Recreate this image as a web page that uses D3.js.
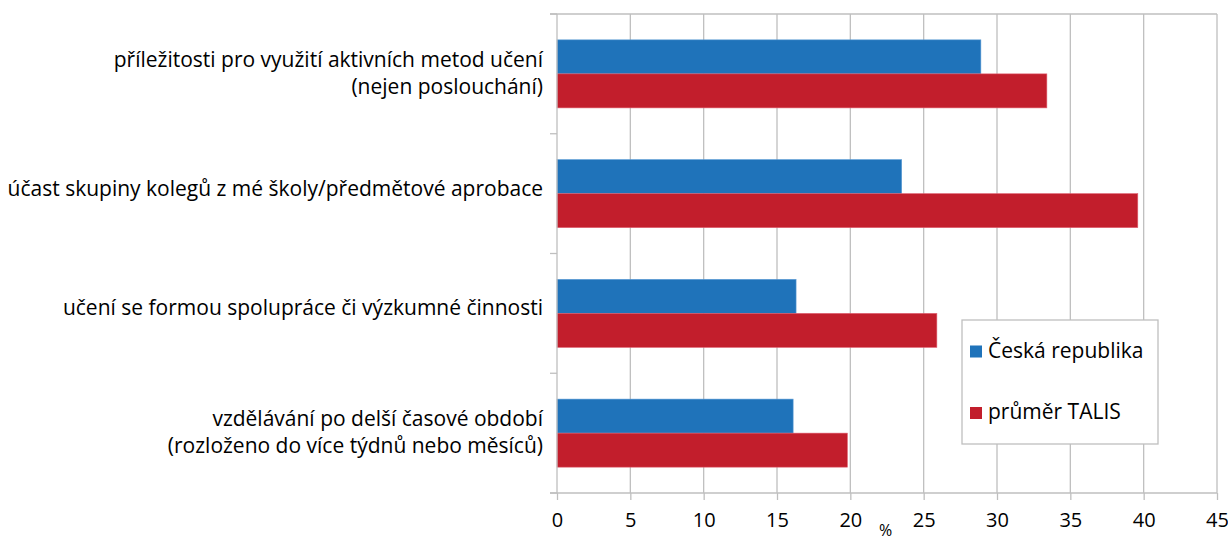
<!DOCTYPE html>
<html>
<head>
<meta charset="utf-8">
<script src="https://cdnjs.cloudflare.com/ajax/libs/d3/7.8.5/d3.min.js"></script>
<style>
  body { margin: 0; background: #fff; }
  svg text { font-family: "Open Sans", "Noto Sans", sans-serif; fill: #000; }
</style>
</head>
<body>
<svg id="chart" width="1228" height="542"></svg>
<script>
// categories, top to bottom, each one split in display lines
var categories = [
    ["příležitosti pro využití aktivních metod učení", "(nejen poslouchání)"],
    ["účast skupiny kolegů z mé školy/předmětové aprobace"],
    ["učení se formou spolupráce či výzkumné činnosti"],
    ["vzdělávání po delší časové období", "(rozloženo do více týdnů nebo měsíců)"]
];
var seriesNames = ["Česká republika", "průměr TALIS"];
var czValues = [28.9, 23.5, 16.3, 16.1];
var talisValues = [33.4, 39.6, 25.9, 19.8];
var xTicks = [0, 5, 10, 15, 20, 25, 30, 35, 40, 45];
var colors = ["#1f73ba", "#c21e2c"];

const margin = {left: 557, right: 11, top: 14, bottom: 49};
const width = 1228 - margin.left - margin.right;
const height = 542 - margin.top - margin.bottom;

var svg = d3.select("#chart");
var g = svg.append("g").attr("transform", "translate(" + margin.left + "," + margin.top + ")");

var xScale = d3.scaleLinear().domain([0, 45]).range([0, width]);
var yScale = d3.scaleBand().domain(d3.range(categories.length)).range([0, height]);
// two bars per category, about 34px each, centred in the band
var inner = d3.scaleBand().domain([0, 1]).range([0, yScale.bandwidth()]).paddingInner(0).paddingOuter(0.76);

// vertical gridlines
g.append("g")
    .selectAll("line")
    .data(xTicks.slice(1))
    .enter().append("line")
    .attr("x1", d => xScale(d)).attr("x2", d => xScale(d))
    .attr("y1", 0).attr("y2", height)
    .attr("stroke", "#bfbfbf").attr("stroke-width", 1.3);

// top border line
g.append("line")
    .attr("x1", -7).attr("x2", width).attr("y1", 0).attr("y2", 0)
    .attr("stroke", "#bfbfbf").attr("stroke-width", 1.3);

// bars
var rows = categories.map((c, i) => ({i: i, values: [czValues[i], talisValues[i]]}));
var rowG = g.selectAll(".row")
    .data(rows)
    .enter().append("g")
    .attr("class", "row")
    .attr("transform", d => "translate(0," + yScale(d.i) + ")");

rowG.selectAll("rect")
    .data(d => d.values.map((v, s) => ({v: v, s: s})))
    .enter().append("rect")
    .attr("x", 0)
    .attr("y", d => inner(d.s))
    .attr("width", d => xScale(d.v))
    .attr("height", inner.bandwidth())
    .attr("fill", d => colors[d.s])
    .attr("stroke", d => d.s === 0 ? "#5b9bd5" : "#e06070")
    .attr("stroke-width", 0.6);

// x axis
var xAxis = g.append("g")
    .attr("transform", "translate(0," + height + ")")
    .call(d3.axisBottom(xScale).tickValues(xTicks).tickSize(7).tickPadding(13));
xAxis.selectAll("text").attr("font-size", 20).attr("font-family", "Open Sans");
xAxis.selectAll("line, path").attr("stroke", "#bfbfbf").attr("stroke-width", 1.3);
xAxis.select("path").attr("d", "M-7,0H" + width);

// y axis with ticks between categories
var yAxis = g.append("g");
yAxis.append("line")
    .attr("x1", 0).attr("x2", 0).attr("y1", 0).attr("y2", height)
    .attr("stroke", "#bfbfbf").attr("stroke-width", 1.3);
yAxis.selectAll(".tk")
    .data(d3.range(categories.length + 1))
    .enter().append("line")
    .attr("class", "tk")
    .attr("x1", -7).attr("x2", 0)
    .attr("y1", d => d * yScale.step()).attr("y2", d => d * yScale.step())
    .attr("stroke", "#bfbfbf").attr("stroke-width", 1.3);

// category labels
var labels = g.selectAll(".cat")
    .data(categories)
    .enter().append("text")
    .attr("class", "cat")
    .attr("text-anchor", "end")
    .attr("font-size", 21)
    .attr("x", -14)
    .attr("y", (d, i) => yScale(i) + yScale.bandwidth() / 2);
labels.selectAll("tspan")
    .data(d => d.map((line, k) => ({line: line, k: k, n: d.length})))
    .enter().append("tspan")
    .attr("x", -14)
    .attr("dy", d => d.k === 0 ? (d.n > 1 ? "-7px" : "2px") : "27px")
    .text(d => d.line);

// axis title
svg.append("text")
    .attr("x", margin.left + xScale(22.4))
    .attr("y", 536)
    .attr("text-anchor", "middle")
    .attr("font-size", 16)
    .text("%");

// legend
var legend = svg.append("g").attr("transform", "translate(962,320)");
legend.append("rect")
    .attr("width", 196).attr("height", 124)
    .attr("fill", "#fff").attr("stroke", "#bfbfbf").attr("stroke-width", 1.3);
var items = legend.selectAll(".item")
    .data(seriesNames)
    .enter().append("g")
    .attr("class", "item")
    .attr("transform", (d, i) => "translate(8," + (31.5 + i * 61.5) + ")");
items.append("rect")
    .attr("y", -6).attr("width", 12).attr("height", 12)
    .attr("fill", (d, i) => colors[i]);
items.append("text")
    .attr("x", 18).attr("y", 6)
    .attr("font-size", 21)
    .text(d => d);
</script>
</body>
</html>
